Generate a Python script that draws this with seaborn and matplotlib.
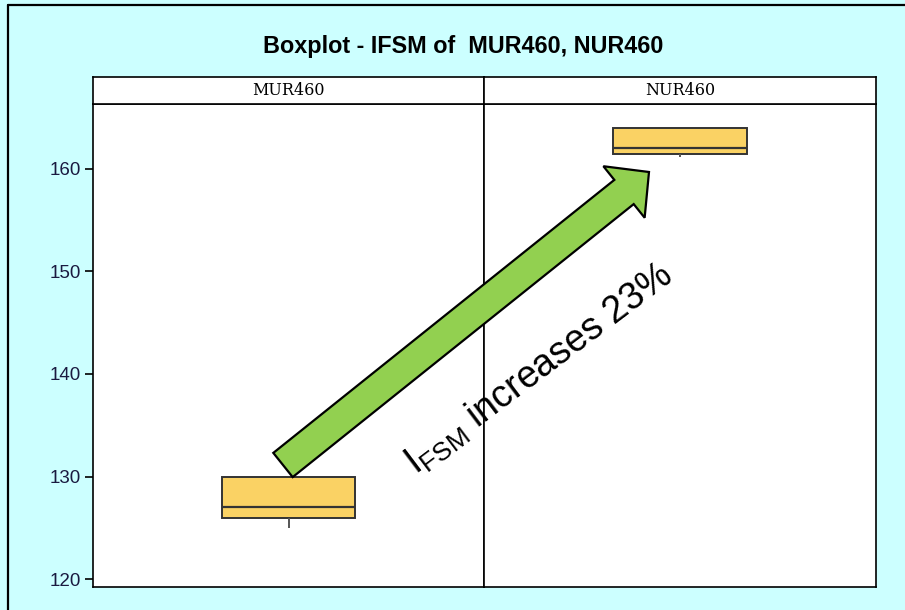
import matplotlib
matplotlib.use("Agg")
import matplotlib.pyplot as plt
import seaborn as sns
import pandas as pd
from matplotlib.patches import FancyArrow
from matplotlib.lines import Line2D

# ---- data ----
groups = ["MUR460", "NUR460"]
mur_values = [125.0, 126.0, 126.0, 127.0, 127.0, 130.0, 130.0, 130.0]
nur_values = [161.2, 161.5, 161.5, 162.0, 162.0, 164.0, 164.0, 164.0]
y_ticks = [120, 130, 140, 150, 160]
title_text = "Boxplot - IFSM of  MUR460, NUR460"
note_text = r"$\mathregular{I_{FSM}}$ increases 23%"

df = pd.DataFrame({
    "group": [groups[0]] * len(mur_values) + [groups[1]] * len(nur_values),
    "IFSM": mur_values + nur_values,
})

sns.set_theme(style="white")
plt.rcParams["font.family"] = ["Liberation Sans", "DejaVu Sans"]
plt.rcParams["mathtext.fontset"] = "custom"
plt.rcParams["mathtext.rm"] = "Liberation Sans"

W, H = 905, 610
fig = plt.figure(figsize=(W / 100, H / 100), dpi=100)
fig.patch.set_facecolor("#CCFFFF")

def fx(px):
    return px / W

def fy(py):
    return 1 - py / H

left, right, mid = 93, 876, 484
top_plot, bottom_plot, strip_top = 104, 587, 77

box_color = "#FAD264"
edge_color = "#333333"

for i, g in enumerate(groups):
    x0 = left if i == 0 else mid
    x1 = mid if i == 0 else right
    ax = fig.add_axes([fx(x0), fy(bottom_plot), fx(x1) - fx(x0), fy(top_plot) - fy(bottom_plot)])
    sub = df[df["group"] == g]
    sns.boxplot(data=sub, x="group", y="IFSM", ax=ax, color=box_color, width=0.34,
                linecolor=edge_color, linewidth=1.4, showcaps=False, saturation=1,
                whiskerprops=dict(color="#555555", linewidth=1.4),
                medianprops=dict(color=edge_color, linewidth=1.6))
    ax.set_ylim(119.22, 166.34)
    ax.set_xlim(-0.5, 0.5)
    ax.set_xlabel("")
    ax.set_ylabel("")
    ax.set_xticks([])
    ax.set_facecolor("white")
    for s in ax.spines.values():
        s.set_color("black")
        s.set_linewidth(1.2)
    if i == 0:
        ax.set_yticks(y_ticks)
        ax.tick_params(axis="y", left=True, length=6, width=1.2, color="black",
                       labelsize=13.5, labelcolor="#1a1a40", pad=3)
    else:
        ax.set_yticks([])

    # strip header
    sax = fig.add_axes([fx(x0), fy(top_plot), fx(x1) - fx(x0), fy(strip_top) - fy(top_plot)])
    sax.set_facecolor("white")
    sax.set_xticks([])
    sax.set_yticks([])
    for s in sax.spines.values():
        s.set_color("black")
        s.set_linewidth(1.2)
    sax.text(0.5, 0.5, g, ha="center", va="center", fontsize=11.5,
             family="DejaVu Serif", color="black", transform=sax.transAxes)

# title
fig.text(fx(463), fy(46), title_text, ha="center", va="center",
         fontsize=16.8, fontweight="bold", color="black")

# outer border (left and top visible)
fig.lines.append(Line2D([fx(8), fx(8)], [0, fy(5)], transform=fig.transFigure,
                        color="black", linewidth=1.6))
fig.lines.append(Line2D([fx(8), 1.0], [fy(5), fy(5)], transform=fig.transFigure,
                        color="black", linewidth=1.6))

# arrow annotation (in inches)
tr = fig.dpi_scale_trans
arrow = FancyArrow(2.83, (H - 465) / 100, 3.66, 2.93, width=0.31, head_width=0.66,
                   head_length=0.32, length_includes_head=True,
                   facecolor="#92D050", edgecolor="black", linewidth=1.6,
                   transform=tr, zorder=10)
fig.patches.append(arrow)

fig.text(5.46, (H - 378) / 100, note_text, transform=tr, rotation=37,
         rotation_mode="anchor", ha="center", va="baseline", fontsize=27,
         color="black", zorder=11)

fig.savefig("out.png", dpi=100, facecolor=fig.get_facecolor())
